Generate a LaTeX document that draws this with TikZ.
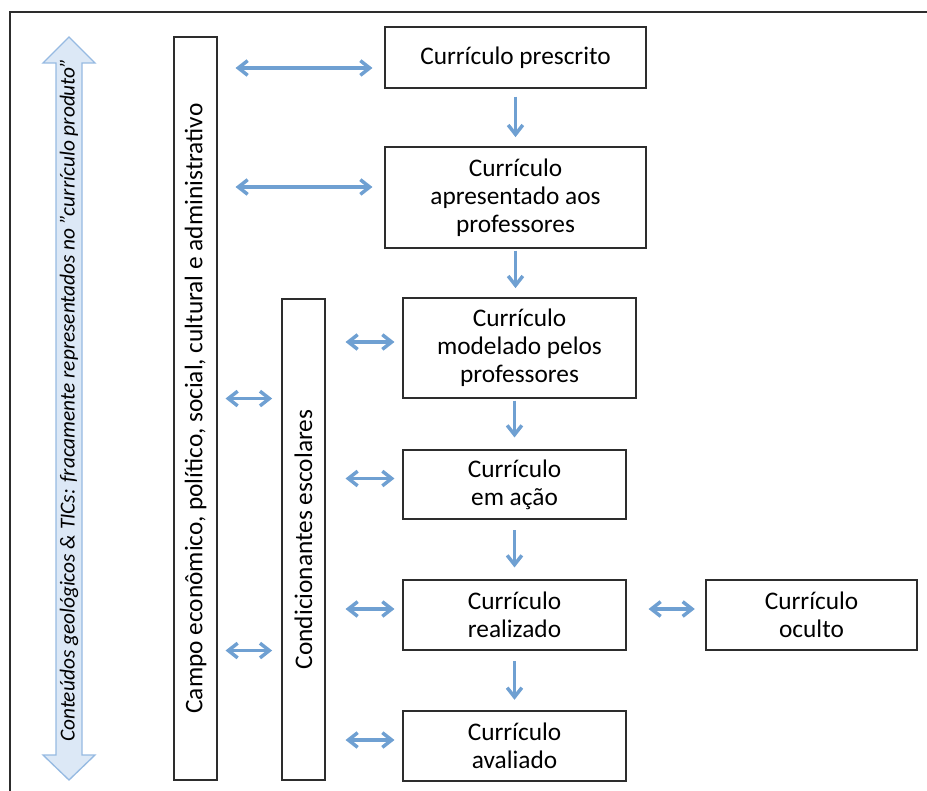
\documentclass[tikz,border=0pt]{standalone}
\usepackage{fontspec}
\setmainfont{Carlito}
\usetikzlibrary{arrows.meta, calc}
\definecolor{curblue}{RGB}{111,160,210}
\definecolor{curlight}{RGB}{220,232,246}
\definecolor{curedge}{RGB}{150,186,226}
\definecolor{curgray}{RGB}{45,45,45}
\tikzset{
  caixa/.style={
    rectangle, draw=curgray, line width=0.8pt, fill=white,
    align=center, inner sep=2pt, font=\fontsize{19}{21}\selectfont
  },
  faixa/.style={caixa, rotate=90},
  duplo/.style={{Straight Barb[length=7pt,width=11pt]}-{Straight Barb[length=7pt,width=11pt]}, line width=2.6pt, draw=curblue},
  desce/.style={-{Straight Barb[length=7pt,width=11pt]}, line width=2.6pt, draw=curblue}
}

\begin{document}
\begin{tikzpicture}[x=0.75pt, y=-0.75pt]
\useasboundingbox (0,0) rectangle (927,791);

% frame
\draw[line width=1.5pt, curgray] (10,791) -- (10,12) -- (927,12);

% big arrow on the left
\draw[fill=curlight, draw=curedge, line width=1pt]
  (69,37) -- (95,63) -- (82,63) -- (82,755) -- (95,755) -- (69,780)
  -- (43,755) -- (56,755) -- (56,63) -- (43,63) -- cycle;
\node[rotate=90, font=\fontsize{16}{18}\selectfont\itshape] (conteudos) at (69,400)
  {Conteúdos geológicos \& TICs: fracamente representados no "currículo produto”};

% vertical bands
\node[faixa, minimum width=557.25pt, minimum height=32.25pt] (campo) at (195.5,408.5)
  {Campo econômico, político, social, cultural e administrativo};
\node[faixa, minimum width=360.75pt, minimum height=32.25pt] (condic) at (303.5,539.5)
  {Condicionantes escolares};

% curriculum boxes
\node[caixa, minimum width=195.75pt, minimum height=45.75pt] (prescrito) at (515.5,57.5) {Currículo prescrito};
\node[caixa, minimum width=195.75pt, minimum height=75.75pt] (apresentado) at (515.5,197.5) {Currículo\\apresentado aos\\professores};
\node[caixa, minimum width=174.75pt, minimum height=75pt] (modelado) at (519.5,348) {Currículo\\modelado pelos\\professores};
\node[caixa, minimum width=167.25pt, minimum height=51.75pt] (acao) at (514.5,484.5) {Currículo\\em ação};
\node[caixa, minimum width=167.25pt, minimum height=52.5pt] (realizado) at (514.5,615) {Currículo\\realizado};
\node[caixa, minimum width=167.25pt, minimum height=52.5pt] (avaliado) at (514.5,746) {Currículo\\avaliado};
\node[caixa, minimum width=158.25pt, minimum height=52.5pt] (oculto) at (811.5,615) {Currículo\\oculto};

% flow down
\draw[desce, shorten <=6pt, shorten >=7pt] (prescrito.south) -- (apresentado.north);
\draw[desce, shorten <=1.5pt, shorten >=7pt] (apresentado.south) -- (apresentado.south |- modelado.north);
\draw[desce, shorten <=1.5pt, shorten >=9pt] (acao.north |- modelado.south) -- (acao.north);
\draw[desce, shorten <=8pt, shorten >=9pt] (acao.south) -- (realizado.north);
\draw[desce, shorten <=8pt, shorten >=8pt] (realizado.south) -- (avaliado.north);

% links to the outer band
\draw[duplo, shorten <=13.5pt, shorten >=9pt] ($(campo.south |- prescrito.west)+(0,10.5)$) -- ($(prescrito.west)+(0,10.5)$);
\draw[duplo, shorten <=13.5pt, shorten >=9pt] ($(campo.south |- apresentado.west)+(0,-10.5)$) -- ($(apresentado.west)+(0,-10.5)$);
\draw[duplo, shorten <=6pt, shorten >=7pt] (campo.south |- modelado.south) -- (condic.north |- modelado.south);
\draw[duplo, shorten <=6pt, shorten >=7pt] (campo.south |- realizado.south) -- (condic.north |- realizado.south);

% links to the school band
\foreach \b in {modelado, acao, realizado, avaliado}
  \draw[duplo, shorten <=15pt, shorten >=6pt] ($(condic.south |- \b.west)+(0,-6)$) -- ($(\b.west)+(0,-6)$);

\draw[duplo, shorten <=16.5pt, shorten >=8pt] ($(realizado.east)+(0,-6)$) -- ($(oculto.west)+(0,-6)$);

\end{tikzpicture}
\end{document}
